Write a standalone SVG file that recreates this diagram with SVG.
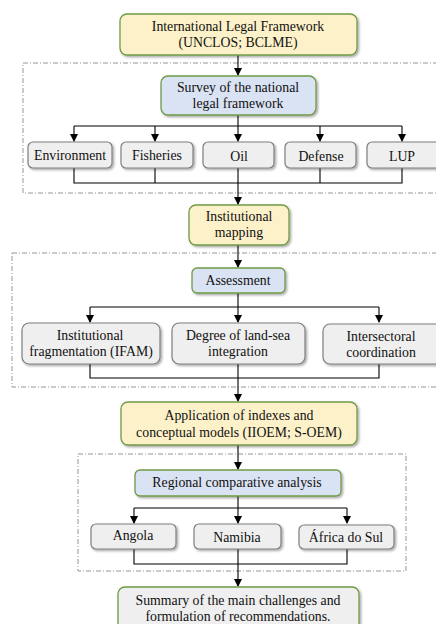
<svg xmlns="http://www.w3.org/2000/svg" width="436" height="624" viewBox="0 0 436 624">
<defs>
<marker id="ah" markerWidth="8" markerHeight="8" refX="7" refY="4" orient="auto" markerUnits="userSpaceOnUse">
<path d="M0,0 L8,4 L0,8 z" fill="#000"/>
</marker>
<filter id="sh" x="-10%" y="-10%" width="130%" height="140%">
<feDropShadow dx="1.5" dy="1.5" stdDeviation="1" flood-color="#000" flood-opacity="0.35"/>
</filter>
</defs>
<style>
.tx{font-family:"Liberation Serif",serif;font-size:13.8px;fill:#111;text-anchor:middle}
.y{fill:#fdf1c9;stroke:#6f9a45;stroke-width:1.3;filter:url(#sh)}
.b{fill:#dae3f3;stroke:#6f9a45;stroke-width:1.3;filter:url(#sh)}
.g{fill:#efefef;stroke:#7f7f7f;stroke-width:1.2;filter:url(#sh)}
.s{fill:#efefef;stroke:#6f9a45;stroke-width:1.3;filter:url(#sh)}
.d{fill:none;stroke:#8a8a8a;stroke-width:0.9;stroke-dasharray:5 2 1 2}
.c{fill:none;stroke:#000;stroke-width:1.1}
</style>
<rect width="436" height="624" fill="#fff"/>
<g id="groups">
<rect class="d" x="23" y="63" width="430" height="130"/>
<rect class="d" x="12" y="253" width="440" height="134"/>
<rect class="d" x="78" y="454" width="328" height="117"/>
</g>
<g id="connectors">
<path class="c" d="M238,55 V75" marker-end="url(#ah)"/>
<path class="c" d="M238,115 V126 M74,126 H402"/>
<path class="c" d="M74,126 V141" marker-end="url(#ah)"/>
<path class="c" d="M155,126 V141" marker-end="url(#ah)"/>
<path class="c" d="M238,126 V141" marker-end="url(#ah)"/>
<path class="c" d="M320,126 V141" marker-end="url(#ah)"/>
<path class="c" d="M402,126 V141" marker-end="url(#ah)"/>
<path class="c" d="M74,168 V183 H402 V168 M155,168 V183 M320,168 V183"/>
<path class="c" d="M238,168 V204" marker-end="url(#ah)"/>
<path class="c" d="M238,245 V267" marker-end="url(#ah)"/>
<path class="c" d="M238,293 V307 M90,307 H379"/>
<path class="c" d="M90,307 V322" marker-end="url(#ah)"/>
<path class="c" d="M238,307 V322" marker-end="url(#ah)"/>
<path class="c" d="M379,307 V322" marker-end="url(#ah)"/>
<path class="c" d="M90,364 V378 H379 V364"/>
<path class="c" d="M238,364 V401" marker-end="url(#ah)"/>
<path class="c" d="M238,445 V469" marker-end="url(#ah)"/>
<path class="c" d="M238,496 V508 M134,508 H347"/>
<path class="c" d="M134,508 V523" marker-end="url(#ah)"/>
<path class="c" d="M238,508 V523" marker-end="url(#ah)"/>
<path class="c" d="M347,508 V523" marker-end="url(#ah)"/>
<path class="c" d="M134,549 V564 H347 V549"/>
<path class="c" d="M238,549 V586" marker-end="url(#ah)"/>
</g>
<g id="n-intl">
<rect class="y" x="120" y="14" width="237" height="41" rx="7"/>
<text class="tx" x="238" y="31">International Legal Framework</text>
<text class="tx" x="238" y="47">(UNCLOS; BCLME)</text>
</g>
<g id="n-survey">
<rect class="b" x="161" y="76" width="155" height="39" rx="7"/>
<text class="tx" x="238" y="92">Survey of the national</text>
<text class="tx" x="238" y="108">legal framework</text>
</g>
<g id="n-env">
<rect class="g" x="28" y="142" width="84" height="26" rx="5"/>
<text class="tx" x="70" y="160">Environment</text>
</g>
<g id="n-fish">
<rect class="g" x="121" y="142" width="72" height="26" rx="5"/>
<text class="tx" x="157" y="160">Fisheries</text>
</g>
<g id="n-oil">
<rect class="g" x="203" y="142" width="71" height="26" rx="5"/>
<text class="tx" x="239" y="161">Oil</text>
</g>
<g id="n-def">
<rect class="g" x="285" y="142" width="71" height="26" rx="5"/>
<text class="tx" x="321" y="161">Defense</text>
</g>
<g id="n-lup">
<rect class="g" x="367" y="142" width="80" height="26" rx="5"/>
<text class="tx" x="402" y="161">LUP</text>
</g>
<g id="n-map">
<rect class="y" x="189" y="205" width="100" height="40" rx="7"/>
<text class="tx" x="239" y="221">Institutional</text>
<text class="tx" x="239" y="237">mapping</text>
</g>
<g id="n-assess">
<rect class="b" x="192" y="268" width="93" height="25" rx="5"/>
<text class="tx" x="238" y="285">Assessment</text>
</g>
<g id="n-frag">
<rect class="g" x="22" y="323" width="138" height="41" rx="7"/>
<text class="tx" x="90" y="340">Institutional</text>
<text class="tx" x="91" y="356">fragmentation (IFAM)</text>
</g>
<g id="n-deg">
<rect class="g" x="172" y="323" width="133" height="41" rx="7"/>
<text class="tx" x="238" y="340">Degree of land-sea</text>
<text class="tx" x="238" y="356">integration</text>
</g>
<g id="n-inter">
<rect class="g" x="323" y="324" width="125" height="40" rx="7"/>
<text class="tx" x="381" y="341">Intersectoral</text>
<text class="tx" x="381" y="357">coordination</text>
</g>
<g id="n-app">
<rect class="y" x="121" y="402" width="236" height="43" rx="7"/>
<text class="tx" x="239" y="420">Application  of indexes  and</text>
<text class="tx" x="239" y="437">conceptual models (IIOEM; S-OEM)</text>
</g>
<g id="n-reg">
<rect class="b" x="135" y="470" width="206" height="26" rx="5"/>
<text class="tx" x="237" y="487">Regional  comparative analysis</text>
</g>
<g id="n-ang">
<rect class="g" x="91" y="524" width="85" height="25" rx="5"/>
<text class="tx" x="133" y="540">Angola</text>
</g>
<g id="n-nam">
<rect class="g" x="194" y="524" width="87" height="25" rx="5"/>
<text class="tx" x="237" y="542">Namibia</text>
</g>
<g id="n-sa">
<rect class="g" x="299" y="525" width="95" height="24" rx="5"/>
<text class="tx" x="346" y="542">África do Sul</text>
</g>
<g id="n-sum">
<rect class="s" x="118" y="587" width="241" height="50" rx="7"/>
<text class="tx" x="238" y="605">Summary of the main  challenges and</text>
<text class="tx" x="238" y="621">formulation of recommendations.</text>
</g>
</svg>
